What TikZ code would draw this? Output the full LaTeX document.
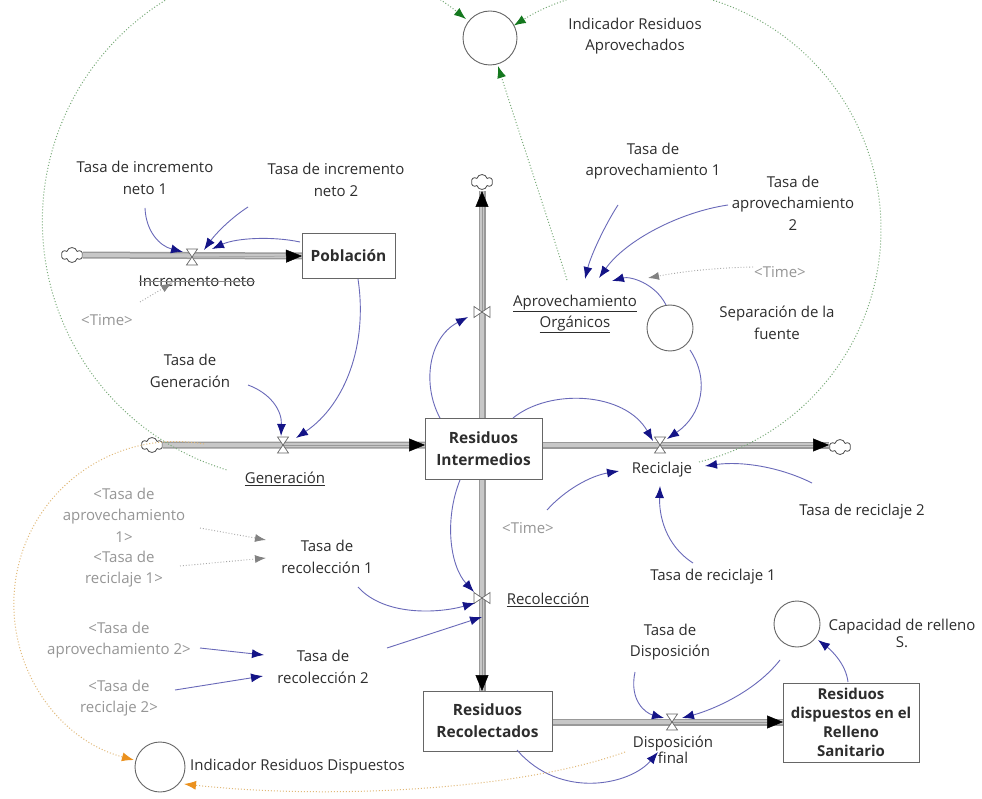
\documentclass[tikz,border=0pt]{standalone}
\usepackage{fontspec}
\setmainfont{Open Sans}
\usetikzlibrary{arrows.meta,shapes.symbols,shapes.geometric}
\definecolor{txtc}{RGB}{45,45,45}
\definecolor{graytxt}{RGB}{150,150,150}
\definecolor{linkc}{RGB}{105,105,185}
\definecolor{headc}{RGB}{20,20,135}
\definecolor{greenl}{RGB}{120,170,120}
\definecolor{greenh}{RGB}{20,120,30}
\definecolor{orangel}{RGB}{225,185,120}
\definecolor{orangeh}{RGB}{235,145,30}
\definecolor{grayl}{RGB}{165,165,165}
\definecolor{grayh}{RGB}{130,130,130}
\tikzset{
  lbl/.style={font=\fontsize{15}{21.5}\selectfont, text=txtc, align=center, inner sep=0pt},
  glbl/.style={lbl, text=graytxt},
  stock/.style={draw=black!60, line width=0.9pt, fill=white, align=center, inner sep=0pt,
     font=\fontsize{15.5}{22}\selectfont\bfseries, text=txtc},
  auxc/.style={circle, draw=black!60, line width=0.9pt, fill=white, inner sep=0pt},
  pipeo/.style={line width=7pt, draw=black!40},
  pipei/.style={line width=4pt, draw=black!22},
  pipehead/.style={line width=0.5pt, draw=black!40, -{Triangle[length=16pt,width=13pt,color=black]}},
  valve/.style={draw=black!60, fill=white, line width=0.7pt},
  cloudn/.style={cloud, cloud puffs=6, draw=black!70, fill=white, line width=0.8pt,
     minimum width=21pt, minimum height=15pt, inner sep=0pt},
  link/.style={draw=linkc, line width=0.9pt, -{Latex[length=12pt,width=9pt,color=headc]}},
  glink/.style={draw=grayl, line width=0.9pt, dotted, -{Latex[length=11pt,width=8pt,color=grayh]}},
  grlink/.style={draw=greenl, line width=1pt, dotted, -{Latex[length=12pt,width=9pt,color=greenh]}},
  orlink/.style={draw=orangel, line width=1pt, dotted, -{Latex[length=12pt,width=9pt,color=orangeh]}},
}
\begin{document}
\begin{tikzpicture}[x=1pt,y=-1pt]
\useasboundingbox (0,0) rectangle (982,799);
\fill[white] (0,0) rectangle (982,799);
\clip (0,0) rectangle (982,799);

% ---------- coordinates of valves and flow ends
\coordinate (vInc) at (192,257);
\coordinate (vGen) at (283,445);
\coordinate (vApr) at (482,312);
\coordinate (vRec) at (660,445);
\coordinate (vCol) at (482,598);
\coordinate (vDis) at (672,722);

% ---------- clouds
\node[cloudn] (c1) at (72,255) {};
\node[cloudn] (c2) at (152,445) {};
\node[cloudn] (c3) at (482,182) {};
\node[cloudn] (c4) at (840,447) {};

% ---------- stock positions (for pipes)
\coordinate (pobW) at (302,256);
\coordinate (riW) at (425,445);
\coordinate (riN) at (482,418);
\coordinate (riE) at (542,445);
\coordinate (riS) at (482,480);
\coordinate (rcN) at (482,691);
\coordinate (rcE) at (552,722);
\coordinate (rdW) at (783,722);
\coordinate (c3S) at (482,191);
\coordinate (c4W) at (829,445);

% ---------- pipes
\foreach \a/\b in {c1/pobW, c2/riW, riN/c3S, riE/c4W, riS/rcN, rcE/rdW}{
  \draw[pipeo] (\a) -- (\b);
  \draw[pipei] (\a) -- (\b);
}
\draw[pipehead] (vInc) -- (pobW);
\draw[pipehead] (vGen) -- (riW);
\draw[pipehead] (vApr) -- (c3S);
\draw[pipehead] (vRec) -- (c4W);
\draw[pipehead] (vCol) -- (rcN);
\draw[pipehead] (vDis) -- (rdW);

% ---------- stocks
\node[stock, minimum width=93pt, minimum height=45pt] (pob) at (348.5,255.5) {Población};
\node[stock, minimum width=117pt, minimum height=61pt] (ri) at (483.5,449) {Residuos\\Intermedios};
\node[stock, minimum width=129pt, minimum height=60pt] (rc) at (487.5,721) {Residuos\\Recolectados};
\node[stock, minimum width=136pt, minimum height=79pt, font=\fontsize{15}{19}\selectfont\bfseries] (rd) at (851,722.5) {Residuos\\dispuestos en el\\Relleno\\Sanitario};

% ---------- valves
\foreach \v in {vInc,vGen,vRec,vDis}{
  \draw[valve, shift={(\v)}] (-5.5,-8) -- (5.5,-8) -- (-5.5,8) -- (5.5,8) -- cycle;
}
\foreach \v in {vApr,vCol}{
  \draw[valve, shift={(\v)}] (-8,-5.5) -- (-8,5.5) -- (8,-5.5) -- (8,5.5) -- cycle;
}

% ---------- auxiliary circles
\node[auxc, minimum size=54pt] (indA) at (490,38) {};
\node[auxc, minimum size=46pt] (sep) at (670,328) {};
\node[auxc, minimum size=46pt] (cap) at (797,624) {};
\node[auxc, minimum size=50pt] (indD) at (160,767) {};

% ---------- labels
\node[lbl] (tin1) at (145,178) {Tasa de incremento\\neto 1};
\node[lbl] (tin2) at (336,180) {Tasa de incremento\\neto 2};
\node[lbl] (incL) at (197,281) {Incremento neto};
\node[glbl] (time1) at (107,320) {<Time>};
\node[lbl] (tgen) at (190,371) {Tasa de\\Generación};
\node[lbl] (genL) at (285,479) {\underline{Generación}};
\node[lbl] (indAL) at (635,36) {Indicador Residuos\\Aprovechados};
\node[lbl] (tap1) at (653,161) {Tasa de\\aprovechamiento 1};
\node[lbl] (tap2) at (793,203) {Tasa de\\aprovechamiento\\2};
\node[glbl] (time2) at (780,272) {<Time>};
\node[lbl] (aprL) at (575,314) {\underline{Aprovechamiento}\\\underline{Orgánicos}};
\node[lbl] (sepL) at (777,323) {Separación de la\\fuente};
\node[lbl] (recL) at (662,470) {Reciclaje};
\node[glbl] (time3) at (528,528) {<Time>};
\node[lbl] (trec2) at (862,512) {Tasa de reciclaje 2};
\node[lbl] (trec1) at (713,577) {Tasa de reciclaje 1};
\node[lbl] (colL) at (548,600) {\underline{Recolección}};
\node[lbl] (tdis) at (670,642) {Tasa de\\Disposición};
\node[lbl, font=\fontsize{15}{17}\selectfont] (capL) at (902,633) {Capacidad de relleno\\S.};
\node[lbl, font=\fontsize{15}{14}\selectfont] (disL) at (673,750) {Disposición\\final};
\node[glbl] (sap1) at (124,515) {<Tasa de\\aprovechamiento\\1>};
\node[glbl] (sre1) at (124,569) {<Tasa de\\reciclaje 1>};
\node[lbl] (tr1) at (327,557) {Tasa de\\recolección 1};
\node[glbl] (sap2) at (119,640) {<Tasa de\\aprovechamiento 2>};
\node[glbl] (sre2) at (119,698) {<Tasa de\\reciclaje 2>};
\node[lbl] (tr2) at (323,667) {Tasa de\\recolección 2};
\node[lbl, anchor=west] (indDL) at (190,767) {Indicador Residuos Dispuestos};
\draw[black!45, line width=0.6pt] (incL.west) -- (incL.east);

% ---------- link end coordinates
\coordinate (a1) at (145,208);  \coordinate (b1) at (183,252);
\coordinate (a2) at (248,207);  \coordinate (b2) at (204,250);
\coordinate (a3) at (300,242);  \coordinate (b3) at (212,249);
\coordinate (a4) at (358,279);  \coordinate (b4) at (296,438);
\coordinate (a5) at (248,385);  \coordinate (b5) at (281,436);
\coordinate (a6) at (440,418);  \coordinate (b6) at (468,317);
\coordinate (a7) at (618,205);  \coordinate (b7) at (585,279);
\coordinate (a8) at (728,205);  \coordinate (b8) at (599,278);
\coordinate (a9) at (666,305);  \coordinate (b9) at (612,281);
\coordinate (a10) at (513,418); \coordinate (b10) at (653,441);
\coordinate (a11) at (690,350); \coordinate (b11) at (667,439);
\coordinate (a12) at (547,510); \coordinate (b12) at (619,471);
\coordinate (a13) at (812,483); \coordinate (b13) at (705,466);
\coordinate (a14) at (693,563); \coordinate (b14) at (660,486);
\coordinate (a15) at (460,480); \coordinate (b15) at (474,592);
\coordinate (a16) at (358,587); \coordinate (b16) at (475,603);
\coordinate (a17) at (387,648); \coordinate (b17) at (482,617);
\coordinate (a18) at (200,648); \coordinate (b18) at (264,655);
\coordinate (a19) at (175,690); \coordinate (b19) at (263,676);
\coordinate (a20) at (635,672); \coordinate (b20) at (664,718);
\coordinate (a21) at (780,660); \coordinate (b21) at (682,718);
\coordinate (a22) at (848,682); \coordinate (b22) at (818,640);
\coordinate (a23) at (517,750); \coordinate (b23) at (658,752);

% ---------- blue links
\draw[link] (a1) .. controls (146,232) and (160,246) .. (b1);
\draw[link] (a2) .. controls (228,220) and (214,236) .. (b2);
\draw[link] (a3) .. controls (272,236) and (236,238) .. (b3);
\draw[link] (a4) .. controls (368,345) and (345,405) .. (b4);
\draw[link] (a5) .. controls (270,393) and (282,410) .. (b5);
\draw[link] (a6) .. controls (422,385) and (428,338) .. (b6);
\draw[link] (a7) .. controls (605,225) and (591,255) .. (b7);
\draw[link] (a8) .. controls (680,212) and (626,240) .. (b8);
\draw[link] (a9) .. controls (655,283) and (630,276) .. (b9);
\draw[link] (a10) .. controls (550,388) and (625,392) .. (b10);
\draw[link] (a11) .. controls (710,380) and (702,415) .. (b11);
\draw[link] (a12) .. controls (565,490) and (590,476) .. (b12);
\draw[link] (a13) .. controls (780,467) and (742,461) .. (b13);
\draw[link] (a14) .. controls (665,545) and (659,515) .. (b14);
\draw[link] (a15) .. controls (444,520) and (450,566) .. (b15);
\draw[link] (a16) .. controls (385,617) and (440,613) .. (b16);
\draw[link] (a17) -- (b17);
\draw[link] (a18) -- (b18);
\draw[link] (a19) -- (b19);
\draw[link] (a20) .. controls (629,700) and (645,713) .. (b20);
\draw[link] (a21) .. controls (755,692) and (712,710) .. (b21);
\draw[link] (a22) .. controls (846,664) and (831,650) .. (b22);
\draw[link] (a23) .. controls (560,800) and (630,785) .. (b23);

% ---------- gray dotted links
\coordinate (g1a) at (140,302); \coordinate (g1b) at (172,283);
\coordinate (g2a) at (753,267); \coordinate (g2b) at (648,278);
\coordinate (g3a) at (200,528); \coordinate (g3b) at (266,540);
\coordinate (g4a) at (180,566); \coordinate (g4b) at (266,558);
\draw[glink] (g1a) -- (g1b);
\draw[glink] (g2a) .. controls (710,268) and (680,272) .. (g2b);
\draw[glink] (g3a) -- (g3b);
\draw[glink] (g4a) -- (g4b);

% ---------- green dotted links to Indicador Residuos Aprovechados
\coordinate (gr1) at (226.4,469.8);
\coordinate (gr2) at (699,462);
\coordinate (gr3a) at (567,280); \coordinate (gr3b) at (498,66);
\draw[grlink] (gr1) arc[start angle=107, end angle=309, radius=260];
\draw[grlink] (gr2) arc[start angle=76, end angle=-122, radius=240];
\draw[grlink] (gr3a) .. controls (545,210) and (515,120) .. (gr3b);

% ---------- orange dotted links to Indicador Residuos Dispuestos
\coordinate (or1) at (204,444);
\coordinate (or2a) at (625,752); \coordinate (or2b) at (184,784);
\draw[orlink] (or1) arc[start angle=-80, end angle=-255, radius=162];
\draw[orlink] (or2a) .. controls (520,790) and (330,800) .. (or2b);
\end{tikzpicture}
\end{document}
